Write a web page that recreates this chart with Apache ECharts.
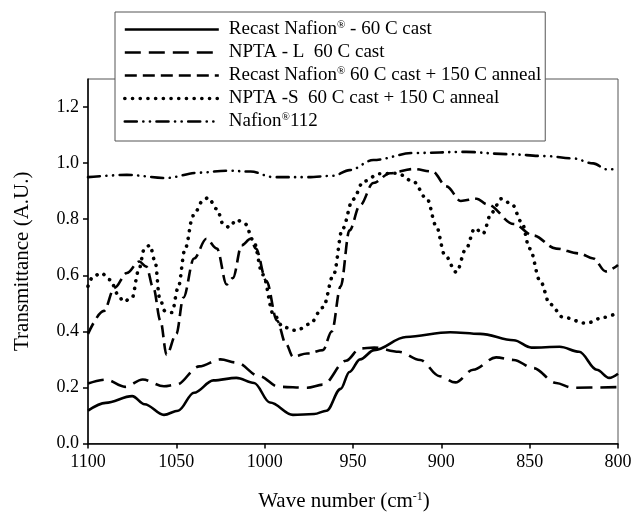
<!DOCTYPE html>
<html>
<head>
<meta charset="utf-8">
<script src="https://cdn.jsdelivr.net/npm/echarts@6/dist/echarts.min.js"></script>
<style>
  html, body { margin: 0; padding: 0; background: #fff; }
  #chart { width: 637px; height: 517px; }
</style>
</head>
<body>
<div id="chart"></div>
<script>
// FTIR transmittance spectra, 1100–800 cm-1
const seriesNames = [
  'Recast Nafion® - 60 C cast',
  'NPTA - L  60 C cast',
  'Recast Nafion® 60 C cast + 150 C anneal',
  'NPTA -S  60 C cast + 150 C anneal',
  'Nafion®112'
];

const yTicks = [0, 0.2, 0.4, 0.6, 0.8, 1.0, 1.2];

// Recast Nafion, 60 C cast
const recastCastWave = [1100, 1090, 1075, 1068, 1057, 1049, 1040, 1029, 1016, 1006, 997, 984, 972, 965, 957, 952, 946, 938, 920, 895, 878, 859, 849, 833, 822, 812, 805, 800];
const recastCastT    = [0.117, 0.145, 0.169, 0.140, 0.102, 0.117, 0.181, 0.225, 0.234, 0.216, 0.146, 0.102, 0.105, 0.117, 0.195, 0.255, 0.300, 0.333, 0.380, 0.397, 0.391, 0.368, 0.342, 0.345, 0.327, 0.263, 0.234, 0.249];

// NPTA-L, 60 C cast
const nptaLWave = [1100, 1090, 1079, 1069, 1057, 1050, 1037, 1025, 1016, 1003, 992, 976, 967, 954, 946, 938, 924, 912, 901, 892, 882, 869, 859, 848, 835, 826, 800];
const nptaLT    = [0.214, 0.228, 0.202, 0.228, 0.204, 0.210, 0.275, 0.300, 0.289, 0.240, 0.202, 0.199, 0.210, 0.295, 0.339, 0.342, 0.327, 0.298, 0.240, 0.218, 0.263, 0.307, 0.298, 0.269, 0.216, 0.199, 0.201];

// Recast Nafion, 60 C cast + 150 C anneal
const recastAnnealWave = [1100, 1091, 1085, 1078, 1071, 1067, 1063, 1059, 1055.5, 1050, 1046, 1040, 1033, 1027, 1021.5, 1018, 1013, 1008, 1005, 999, 993, 988, 984, 976, 967, 962, 957, 952, 946, 938.5, 929, 916, 905, 897, 889, 880, 874, 859, 848, 835, 822, 814, 807, 800];
const recastAnnealT    = [0.391, 0.473, 0.555, 0.608, 0.649, 0.631, 0.555, 0.438, 0.316, 0.391, 0.520, 0.660, 0.730, 0.695, 0.567, 0.590, 0.707, 0.730, 0.695, 0.579, 0.438, 0.356, 0.310, 0.321, 0.333, 0.400, 0.560, 0.760, 0.850, 0.929, 0.964, 0.979, 0.970, 0.917, 0.865, 0.873, 0.853, 0.783, 0.742, 0.695, 0.678, 0.660, 0.614, 0.637];

// NPTA-S, 60 C cast + 150 C anneal
const nptaSWave = [1100, 1097, 1092.5, 1087.5, 1083, 1080, 1075, 1071.5, 1068, 1065, 1062, 1059.5, 1056.5, 1052.5, 1049, 1045, 1040.5, 1035, 1032, 1027, 1023.5, 1020, 1016, 1011, 1006.5, 1001, 995, 989.5, 982, 974.5, 967, 961, 956, 950, 944, 935, 925, 916, 908, 903, 898, 891.5, 886, 881, 876.5, 871.5, 866, 860, 854.5, 850, 844, 838.5, 831, 818, 808, 800];
const nptaST    = [0.561, 0.596, 0.608, 0.584, 0.532, 0.506, 0.520, 0.614, 0.695, 0.707, 0.649, 0.520, 0.473, 0.467, 0.555, 0.695, 0.812, 0.865, 0.877, 0.836, 0.783, 0.771, 0.798, 0.783, 0.725, 0.602, 0.461, 0.415, 0.403, 0.426, 0.485, 0.602, 0.765, 0.871, 0.935, 0.962, 0.964, 0.935, 0.871, 0.777, 0.672, 0.611, 0.695, 0.768, 0.748, 0.824, 0.873, 0.853, 0.789, 0.695, 0.579, 0.497, 0.450, 0.429, 0.450, 0.467];

// Nafion 112
const nafion112Wave = [1100, 1078, 1056, 1037, 1021.5, 1008, 995, 976, 961, 952, 938.5, 916, 886, 863, 840.5, 825.5, 814, 806.5, 800];
const nafion112T    = [0.950, 0.958, 0.947, 0.966, 0.973, 0.970, 0.950, 0.950, 0.955, 0.975, 1.011, 1.036, 1.040, 1.032, 1.025, 1.017, 0.999, 0.978, 0.978];

const zip = (xs, ys) => xs.map((x, i) => [x, ys[i]]);

const FONT = '"Liberation Serif", "Times New Roman", serif';

const lineStyles = [
  { color: '#000', width: 2.6, type: 'solid' },
  { color: '#000', width: 2.6, type: [16, 8] },
  { color: '#000', width: 2.6, type: [12, 6] },
  { color: '#000', width: 3.6, type: [0.1, 7.6], cap: 'round' },
  { color: '#000', width: 2.6, type: [12, 6.5, 0.1, 6.5, 0.1, 6.5], cap: 'round' }
];

const seriesData = [
  zip(recastCastWave, recastCastT),
  zip(nptaLWave, nptaLT),
  zip(recastAnnealWave, recastAnnealT),
  zip(nptaSWave, nptaST),
  zip(nafion112Wave, nafion112T)
];

const chart = echarts.init(document.getElementById('chart'), null, { renderer: 'canvas' });

chart.setOption({
  animation: false,
  backgroundColor: '#fff',
  textStyle: { fontFamily: FONT, color: '#000' },
  grid: {
    left: 88, right: 19, top: 79, bottom: 69,
    show: true, borderColor: '#555', borderWidth: 1, backgroundColor: 'transparent'
  },
  legend: {
    orient: 'vertical',
    left: 115, top: 12,
    padding: [8, 4, 10, 8],
    itemGap: 4,
    itemWidth: 94,
    itemHeight: 14,
    backgroundColor: '#fff',
    borderColor: '#555',
    borderWidth: 1,
    borderRadius: 0,
    itemStyle: { opacity: 0 },
    inactiveColor: '#000',
    selectedMode: false,
    data: seriesNames.map((name, i) => ({ name, lineStyle: lineStyles[i] })),
    formatter: name => name.split('®').map(s => '{t|' + s + '}').join('{sup|®}'),
    textStyle: {
      fontFamily: FONT, fontSize: 19, color: '#000', padding: [0, 0, 0, 5],
      rich: {
        t: { fontFamily: FONT, fontSize: 19, color: '#000', lineHeight: 20 },
        sup: { fontFamily: FONT, fontSize: 11, color: '#000', lineHeight: 20, padding: [0, 0, 8, 0] }
      }
    }
  },
  xAxis: {
    type: 'value',
    inverse: true,
    min: 800, max: 1100, interval: 50,
    name: 'Wave number (cm{sup|-1})',
    nameLocation: 'middle',
    nameGap: 47,
    nameTextStyle: {
      fontFamily: FONT, fontSize: 21, color: '#000', padding: [0, 18, 0, 0],
      rich: {
        sup: { fontFamily: FONT, fontSize: 12, color: '#000', padding: [0, 0, 10, 0] }
      }
    },
    axisLine: { show: true, onZero: false, lineStyle: { color: '#000', width: 1.5 } },
    axisTick: { show: true, inside: false, length: 5, lineStyle: { color: '#000', width: 1.5 } },
    axisLabel: { fontFamily: FONT, fontSize: 18, color: '#000', margin: 10, formatter: v => String(v) },
    splitLine: { show: false }
  },
  yAxis: {
    type: 'value',
    min: 0, max: 1.3, interval: 0.2,
    name: 'Transmittance (A.U.)',
    nameLocation: 'middle',
    nameGap: 55,
    nameTextStyle: { fontFamily: FONT, fontSize: 21, color: '#000' },
    axisLine: { show: true, onZero: false, lineStyle: { color: '#000', width: 1.5 } },
    axisTick: { show: true, inside: false, length: 5, customValues: yTicks, lineStyle: { color: '#000', width: 1.5 } },
    axisLabel: {
      fontFamily: FONT, fontSize: 18, color: '#000', margin: 9,
      customValues: yTicks,
      formatter: v => v.toFixed(1)
    },
    splitLine: { show: false }
  },
  series: seriesNames.map((name, i) => ({
    name,
    type: 'line',
    data: seriesData[i],
    symbol: 'none',
    smooth: 0.35,
    smoothMonotone: 'x',
    lineStyle: lineStyles[i],
    itemStyle: { color: '#000' },
    z: 2
  }))
});
</script>
</body>
</html>
